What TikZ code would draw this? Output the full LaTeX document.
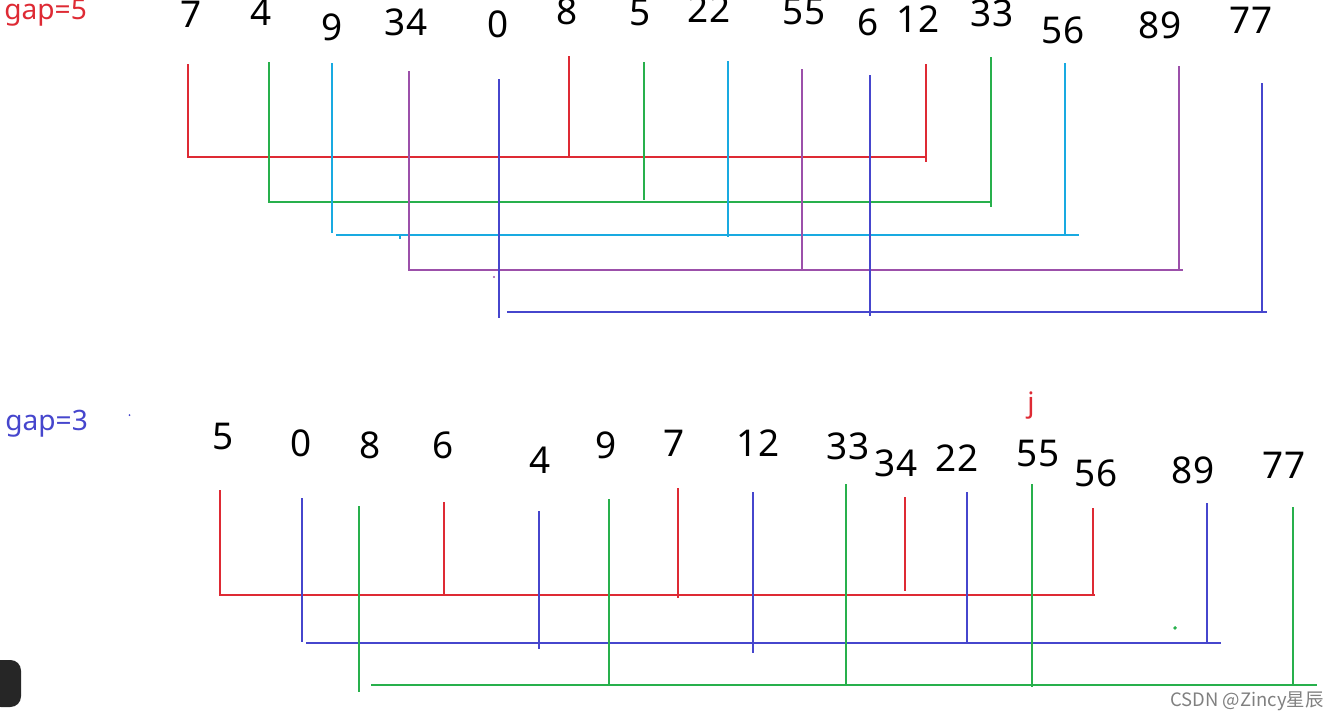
\documentclass[tikz,border=0pt]{standalone}
\usepackage{fontspec}
\setmainfont{Noto Sans}
\newfontfamily\cjkfont{Noto Sans CJK SC}

\definecolor{gapred}{RGB}{222,42,52}
\definecolor{gapgreen}{RGB}{40,176,76}
\definecolor{gapcyan}{RGB}{25,170,225}
\definecolor{gappurple}{RGB}{156,80,170}
\definecolor{gapblue}{RGB}{70,70,205}

\tikzset{
  num/.style={anchor=base, inner sep=0pt, font=\fontsize{21}{25}\selectfont},
  gaplabel/.style={anchor=base west, inner sep=0pt, font=\fontsize{16}{19}\selectfont},
  ln/.style={line width=1.5pt}
}

\begin{document}
\begin{tikzpicture}[x=0.02cm,y=-0.02cm]
\useasboundingbox (0,0) rectangle (1340,720);
\clip (0,0) rectangle (1340,720);

% gap=5
\node[gaplabel, text=gapred] (gapfive) at (4,19) {gap=5};
\node[num] (t7)  at (191,28) {7};
\node[num] (t4)  at (261,26) {4};
\node[num] (t9)  at (332,40) {9};
\node[num] (t34) at (406,35) {34};
\node[num] (t0)  at (498,37) {0};
\node[num] (t8)  at (567,25) {8};
\node[num] (t5)  at (640,26) {5};
\node[num] (t22) at (709,22) {22};
\node[num] (t55) at (804,25) {55};
\node[num] (t6)  at (868,35) {6};
\node[num] (t12) at (918,32) {12};
\node[num] (t33) at (992,27) {33};
\node[num] (t56) at (1063,43) {56};
\node[num] (t89) at (1160,38) {89};
\node[num] (t77) at (1251,33) {77};

	\draw[ln,gapred] (188,64) -- (188,157) -- (927,157);
	\draw[ln,gapred] (569,56) -- (569,157);
	\draw[ln,gapred] (926,64) -- (926,162);

	\draw[ln,gapgreen] (269,62) -- (269,202) -- (991,202);
	\draw[ln,gapgreen] (644,62) -- (644,200);
	\draw[ln,gapgreen] (991,57) -- (991,207);

	\draw[ln,gapcyan] (332,63) -- (332,233);
	\draw[ln,gapcyan] (336,235) -- (1079,235);
	\draw[ln,gapcyan] (728,61) -- (728,237);
	\draw[ln,gapcyan] (1065,63) -- (1065,235);
	\draw[ln,gapcyan] (400,235) -- (400,239);

	\draw[ln,gappurple] (409,71) -- (409,270) -- (1183,270);
	\draw[ln,gappurple] (802,69) -- (802,270);
	\draw[ln,gappurple] (1179,66) -- (1179,270);
	\fill[gappurple] (494,277) circle (1.2);

	\draw[ln,gapblue] (499,79) -- (499,318);
	\draw[ln,gapblue] (507,312) -- (1267,312);
	\draw[ln,gapblue] (870,75) -- (870,316);
	\draw[ln,gapblue] (1262,83) -- (1262,312);

% gap=3
\node[gaplabel, text=gapblue] (gapthree) at (5,430) {gap=3};
\fill[gapblue] (129.5,415) circle (1);
\node[gaplabel, anchor=base, text=gapred] (jmark) at (1031,412) {j};
\node[num] (b5)  at (223,449) {5};
\node[num] (b0)  at (301,456) {0};
\node[num] (b8)  at (370,458) {8};
\node[num] (b6)  at (443,458) {6};
\node[num] (b4)  at (540,473) {4};
\node[num] (b9)  at (606,458) {9};
\node[num] (b7)  at (674,456) {7};
\node[num] (b12) at (758,456) {12};
\node[num] (b33) at (848,459) {33};
\node[num] (b34) at (896,476) {34};
\node[num] (b22) at (957,471) {22};
\node[num] (b55) at (1038,466) {55};
\node[num] (b56) at (1096,486) {56};
\node[num] (b89) at (1193,483) {89};
\node[num] (b77) at (1284,478) {77};

	\draw[ln,gapred] (220,490) -- (220,595) -- (1095,595);
	\draw[ln,gapred] (444,502) -- (444,595);
	\draw[ln,gapred] (678,488) -- (678,598);
	\draw[ln,gapred] (905,497) -- (905,591);
	\draw[ln,gapred] (1093,508) -- (1093,595);

	\draw[ln,gapblue] (302,498) -- (302,642);
	\draw[ln,gapblue] (306,643) -- (1221,643);
	\draw[ln,gapblue] (539,511) -- (539,649);
	\draw[ln,gapblue] (753,492) -- (753,653);
	\draw[ln,gapblue] (967,492) -- (967,643);
	\draw[ln,gapblue] (1207,503) -- (1207,643);

	\draw[ln,gapgreen] (359,506) -- (359,692);
	\draw[ln,gapgreen] (371,685) -- (1317,685);
	\draw[ln,gapgreen] (609,499) -- (609,685);
	\draw[ln,gapgreen] (846,484) -- (846,685);
	\draw[ln,gapgreen] (1032,484) -- (1032,687);
	\draw[ln,gapgreen] (1293,507) -- (1293,685);
	\draw[ln,gapgreen] (1174,629) -- (1176,627);

% corner box and watermark
\fill[black!85, rounded corners=6] (-10,660) rectangle (21,707);
\node[anchor=base east, inner sep=0pt, text=black!50, font=\cjkfont\fontsize{10.5}{12}\selectfont] (mark) at (1324,706) {CSDN @Zincy星辰};
\end{tikzpicture}
\end{document}
